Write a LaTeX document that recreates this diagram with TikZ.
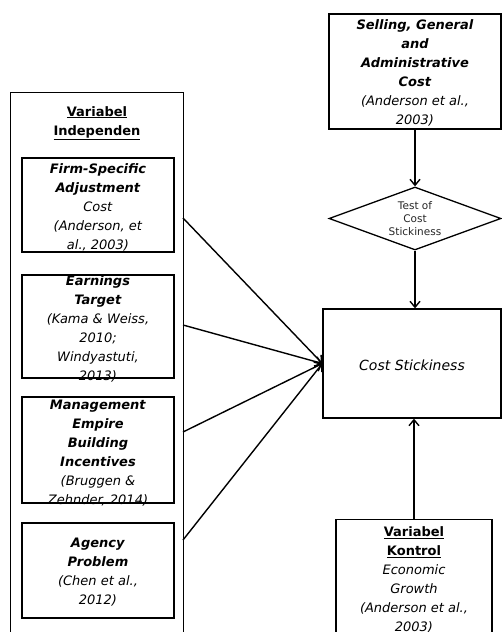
\documentclass[tikz,border=0pt]{standalone}
\usepackage{fontspec}
\setmainfont{DejaVu Sans}
\usetikzlibrary{shapes.geometric,arrows.meta}
\begin{document}
\begin{tikzpicture}[x=1pt,y=-1pt,
  frame/.style={draw, line width=1.3pt, inner sep=0pt},
  txt/.style={align=center, inner sep=0pt, font=\fontsize{13}{19}\selectfont},
  link/.style={line width=1.4pt, -{Straight Barb[length=6pt,width=10pt]}},
]
\useasboundingbox (0,0) rectangle (502,632);

% left column: independent variables
\node[frame, minimum width=173pt, minimum height=555pt, anchor=north west] (indep) at (10,92) {};
\node[txt] (hdr) at (97,123) {\textbf{\underline{Variabel}}\\\textbf{\underline{Independen}}};

\node[frame, minimum width=152pt, minimum height=94pt] (f1) at (98,205) {};
\node[txt] (f1t) at (98,207) {\textbf{\textit{Firm-Specific}}\\\textbf{\textit{Adjustment}}\\\textit{Cost}\\\textit{(Anderson, et}\\\textit{al., 2003)}};

\node[frame, minimum width=152pt, minimum height=103pt] (f2) at (98,326.5) {};
\node[txt] (f2t) at (98,329) {\textbf{\textit{Earnings}}\\\textbf{\textit{Target}}\\\textit{(Kama \& Weiss,}\\\textit{2010;}\\\textit{Windyastuti,}\\\textit{2013)}};

\node[frame, minimum width=152pt, minimum height=106pt] (f3) at (98,450) {};
\node[txt] (f3t) at (98,453) {\textbf{\textit{Management}}\\\textbf{\textit{Empire}}\\\textbf{\textit{Building}}\\\textbf{\textit{Incentives}}\\\textit{(Bruggen \&}\\\textit{Zehnder, 2014)}};

\node[frame, minimum width=152pt, minimum height=95pt] (f4) at (98,570.5) {};
\node[txt] (f4t) at (98,572) {\textbf{\textit{Agency}}\\\textbf{\textit{Problem}}\\\textit{(Chen et al.,}\\\textit{2012)}};

% right column
\node[frame, minimum width=172pt, minimum height=115pt] (sga) at (415,71.5) {};
\node[txt] (sgat) at (415,73) {\textbf{\textit{Selling, General}}\\\textbf{\textit{and}}\\\textbf{\textit{Administrative}}\\\textbf{\textit{Cost}}\\\textit{(Anderson et al.,}\\\textit{2003)}};

\node[draw, diamond, line width=1.3pt, inner sep=0pt, aspect=2.7,
      minimum width=172pt, minimum height=63pt] (test) at (415,218.5) {};
\node[align=center, inner sep=0pt, text=black!85, font=\fontsize{10.5}{13}\selectfont] (testt) at (415,219) {Test of\\Cost\\Stickiness};

\node[frame, minimum width=178pt, minimum height=109pt] (cs) at (412,363.5) {};
\node[txt, font=\fontsize{14}{19}\selectfont] (cst) at (412,365) {\textit{Cost Stickiness}};

\node[frame, minimum width=156pt, minimum height=126pt, anchor=north] (ctrl) at (414,519) {};
\node[txt] (ctrlt) at (414,580) {\textbf{\underline{Variabel}}\\\textbf{\underline{Kontrol}}\\\textit{Economic}\\\textit{Growth}\\\textit{(Anderson et al.,}\\\textit{2003)}};

% connectors
\coordinate (s1) at (183,218);
\coordinate (s2) at (183,325);
\coordinate (s3) at (183,432);
\coordinate (s4) at (183,540);
\foreach \s in {s1,s2,s3,s4} \draw[link] (\s) -- (cs.west);

\draw[link] (sga.south) -- (test.north);
\draw[link] (test.south) -- (test.south |- cs.north);
\draw[link] (ctrl.north) -- (ctrl.north |- cs.south);
\end{tikzpicture}
\end{document}
